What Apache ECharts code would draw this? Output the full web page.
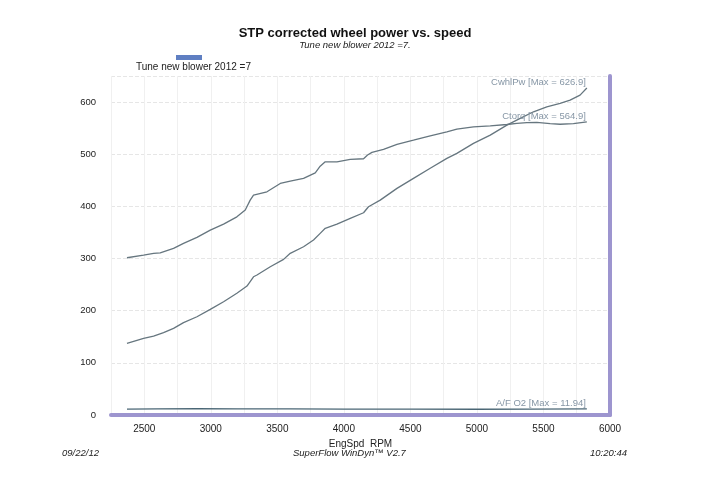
<!DOCTYPE html>
<html>
<head>
<meta charset="utf-8">
<script src="https://cdn.jsdelivr.net/npm/echarts@6/dist/echarts.min.js"></script>
<style>
html,body{margin:0;padding:0;background:#fff;}
#c{width:720px;height:480px;}
</style>
</head>
<body>
<div id="c"></div>
<script>
// Engine speed (RPM) and corrected torque (lb-ft)
const torqRpm = [2370,2495,2570,2620,2720,2795,2896,2996,3096,3196,3259,3296,3321,3422,3522,3597,3697,3785,3822,3860,3948,4048,4148,4178,4211,4298,4399,4523,4649,4774,4849,4974,5100,5225,5300,5375,5450,5550,5625,5725,5826];
const torqVal = [301.5,306.7,310,311,319.5,329,340.6,354.6,366,380,393,412,421.7,428,444,448.5,453.7,464.4,477,485.5,485.5,490,491.3,498.4,503.5,509.3,519,527,535.4,543,548,552.6,554.5,557,559,560.5,561,558.5,557.5,558.5,562];
// Corrected wheel power (hp)
const pwrRpm = [2370,2495,2570,2645,2720,2795,2896,2996,3096,3196,3272,3321,3347,3447,3547,3597,3697,3772,3822,3860,3948,4048,4148,4185,4273,4399,4523,4649,4774,4849,4974,5100,5225,5325,5425,5525,5625,5700,5775,5826];
const pwrVal = [137.4,147,151.4,157.8,166.2,177,188.4,202.6,217.2,233.3,247.3,265,268.4,284.3,298.4,310,322.6,335.4,348.3,358,366,377,387.8,399.3,412,434.5,453.7,473,492,501.6,520.8,536.7,555.9,568.7,581.4,591,597.5,603.8,613.4,626.9];
// Air/fuel ratio (O2)
const afRpm = [2370,2600,2900,3200,3600,4000,4500,5000,5400,5826];
const afVal = [11.2,11.6,11.94,11.8,11.6,11.4,11.1,11.0,11.3,11.6];

const xTicks = [2500,3000,3500,4000,4500,5000,5500,6000];
const yTicks = [0,100,200,300,400,500,600];

const zip = (a,b) => a.map((v,i)=>[v,b[i]]);
const purple = '#9d95cf';
const lineCol = '#66767f';
const lblCol = '#8797a6';

const chart = echarts.init(document.getElementById('c'));
chart.setOption({
  animation:false,
  backgroundColor:'#fff',
  textStyle:{fontFamily:'Liberation Sans, Arial, sans-serif'},
  title:{
    text:'STP corrected wheel power vs. speed',
    subtext:'Tune new blower 2012 =7.',
    left:350, top:22, textAlign:'center', itemGap:0,
    textStyle:{fontSize:13,fontWeight:'bold',color:'#111'},
    subtextStyle:{fontSize:9.5,fontStyle:'italic',color:'#222'}
  },
  grid:{left:111,right:110,top:76,bottom:65,containLabel:false},
  xAxis:{
    type:'value',min:2250,max:6000,interval:250,
    name:'EngSpd  RPM',nameLocation:'middle',nameGap:18,
    nameTextStyle:{fontSize:10,color:'#222'},
    axisLine:{show:true,onZero:false,lineStyle:{color:purple,width:4}},
    axisTick:{show:false},
    axisLabel:{fontSize:10,color:'#222',margin:9,
      formatter:v=>xTicks.includes(v)?String(v):''},
    splitLine:{show:true,lineStyle:{color:'#f0f0f0',width:1}}
  },
  yAxis:[{
    type:'value',min:0,max:650,interval:100,
    axisLine:{show:false},axisTick:{show:false},
    axisLabel:{fontSize:9.5,color:'#222',margin:15,
      formatter:v=>yTicks.includes(v)?String(v):''},
    splitLine:{show:true,lineStyle:{color:'#e6e6e6',type:'dashed',width:1}}
  },{
    type:'value',min:0,max:650,position:'right',
    axisLine:{show:true,lineStyle:{color:purple,width:4}},
    axisTick:{show:false},axisLabel:{show:false},splitLine:{show:false}
  }],
  series:[
    {name:'CwhlPw',type:'line',data:zip(pwrRpm,pwrVal),symbol:'none',
     lineStyle:{color:lineCol,width:1.3},
     endLabel:{show:true,formatter:'CwhlPw [Max = 626.9]',align:'right',verticalAlign:'bottom',
       distance:0,offset:[-1,-1],fontSize:9.5,color:lblCol}},
    {name:'Ctorq',type:'line',data:zip(torqRpm,torqVal),symbol:'none',
     lineStyle:{color:lineCol,width:1.3},
     endLabel:{show:true,formatter:'Ctorq [Max = 564.9]',align:'right',verticalAlign:'bottom',
       distance:0,offset:[-1,-1],fontSize:9.5,color:lblCol}},
    {name:'A/F O2',type:'line',data:zip(afRpm,afVal),symbol:'none',
     lineStyle:{color:'#4a6675',width:1.3},
     endLabel:{show:true,formatter:'A/F O2 [Max = 11.94]',align:'right',verticalAlign:'bottom',
       distance:0,offset:[-1,-1],fontSize:9.5,color:lblCol}}
  ],
  graphic:[
    {type:'rect',shape:{x:176,y:55,width:26,height:5},style:{fill:'#5f7fc2'}},
    {type:'text',left:136,top:62,style:{text:'Tune new blower 2012 =7',fontSize:10,fill:'#222',fontFamily:'Liberation Sans, Arial, sans-serif'}},
    {type:'text',left:62,top:448,style:{text:'09/22/12',fontSize:9.5,fontStyle:'italic',fill:'#222',fontFamily:'Liberation Sans, Arial, sans-serif'}},
    {type:'text',left:293,top:448,style:{text:'SuperFlow WinDyn™ V2.7',fontSize:9.5,fontStyle:'italic',fill:'#222',fontFamily:'Liberation Sans, Arial, sans-serif'}},
    {type:'text',left:590,top:448,style:{text:'10:20:44',fontSize:9.5,fontStyle:'italic',fill:'#222',fontFamily:'Liberation Sans, Arial, sans-serif'}}
  ]
});
</script>
</body>
</html>
